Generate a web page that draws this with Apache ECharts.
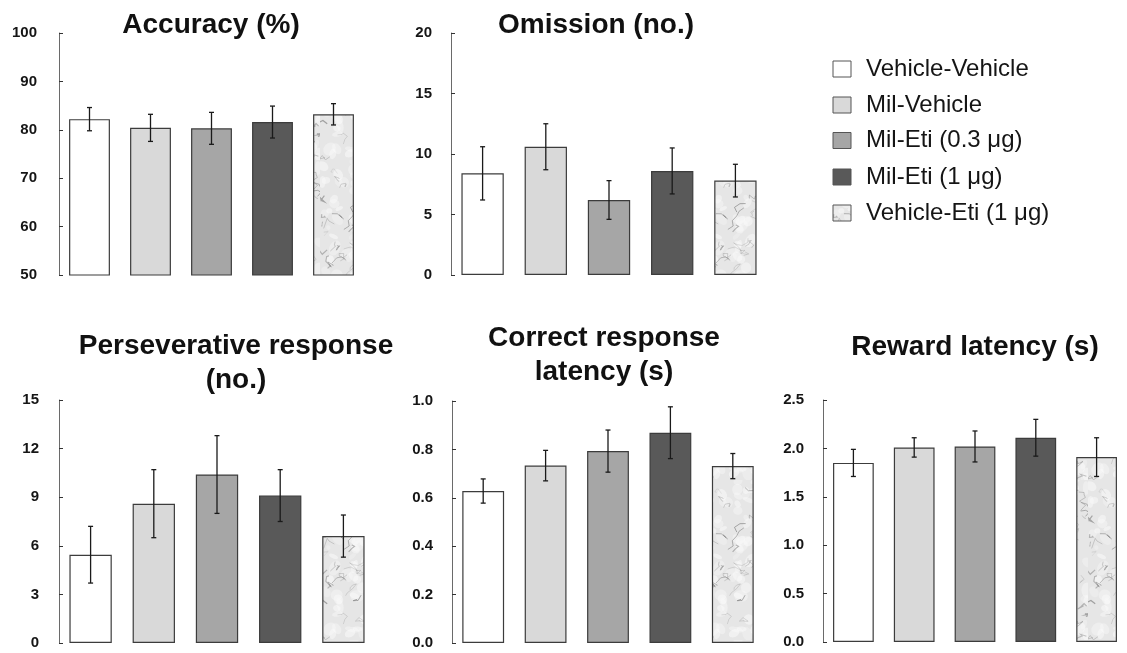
<!DOCTYPE html>
<html>
<head>
<meta charset="utf-8">
<script src="https://cdn.jsdelivr.net/npm/echarts@6/dist/echarts.min.js"></script>
<style>
  html, body { margin: 0; padding: 0; background: #ffffff; }
  #chart { width: 1127px; height: 653px; }
</style>
</head>
<body>
<div id="chart"></div>
<script>
// Treatment groups (same order in every panel)
const groups = ['Vehicle-Vehicle', 'Mil-Vehicle', 'Mil-Eti (0.3 μg)', 'Mil-Eti (1 μg)', 'Vehicle-Eti (1 μg)'];

// Means and SEM per measure
const accuracyMean = [82.2, 80.4, 80.3, 81.6, 83.2];
const accuracySem  = [2.4, 2.8, 3.3, 3.3, 2.2];
const omissionMean = [8.4, 10.6, 6.2, 8.6, 7.8];
const omissionSem  = [2.2, 1.9, 1.6, 1.9, 1.35];
const persevMean   = [5.45, 8.6, 10.4, 9.1, 6.6];
const persevSem    = [1.75, 2.1, 2.4, 1.6, 1.3];
const correctLatMean = [0.628, 0.733, 0.793, 0.869, 0.731];
const correctLatSem  = [0.05, 0.063, 0.087, 0.107, 0.052];
const rewardLatMean  = [1.85, 2.01, 2.02, 2.11, 1.91];
const rewardLatSem   = [0.14, 0.10, 0.16, 0.19, 0.20];

// Y-axis tick values per measure
const accuracyTicks   = [50, 60, 70, 80, 90, 100];
const omissionTicks   = [0, 5, 10, 15, 20];
const persevTicks     = [0, 3, 6, 9, 12, 15];
const correctLatTicks = [0.0, 0.2, 0.4, 0.6, 0.8, 1.0];
const rewardLatTicks  = [0.0, 0.5, 1.0, 1.5, 2.0, 2.5];

// Panel titles
const titles = ['Accuracy (%)', 'Omission (no.)', 'Perseverative response\n(no.)', 'Correct response\nlatency (s)', 'Reward latency (s)'];

// Marble-like texture used for the Vehicle-Eti group
function marbleCanvas() {
  const c = document.createElement('canvas');
  c.width = 64; c.height = 160;
  const g = c.getContext('2d');
  g.fillStyle = '#e6e6e6';
  g.fillRect(0, 0, c.width, c.height);
  let s = 9871;
  const rnd = () => (s = (s * 16807) % 2147483647) / 2147483647;
  // soft light clouds
  for (let i = 0; i < 70; i++) {
    g.fillStyle = 'rgba(250,250,250,' + (0.25 + 0.35 * rnd()).toFixed(2) + ')';
    g.beginPath();
    g.ellipse(rnd() * c.width, rnd() * c.height, 2 + rnd() * 6, 2 + rnd() * 4, rnd() * 3, 0, Math.PI * 2);
    g.fill();
  }
  // fine veins
  for (let i = 0; i < 45; i++) {
    let x = rnd() * c.width, y = rnd() * c.height;
    g.strokeStyle = 'rgba(110,110,110,' + (0.2 + 0.45 * rnd()).toFixed(2) + ')';
    g.lineWidth = 0.4 + rnd() * 0.8;
    g.beginPath();
    g.moveTo(x, y);
    const n = 2 + Math.floor(rnd() * 5);
    for (let k = 0; k < n; k++) {
      x += (rnd() - 0.5) * 12;
      y += (rnd() - 0.4) * 9;
      g.lineTo(x, y);
    }
    g.stroke();
  }
  return c;
}
const marble = { image: marbleCanvas(), repeat: 'repeat' };
const fills = ['#ffffff', '#d9d9d9', '#a6a6a6', '#595959', marble];

// Layout of the five panels
const layout = [
  { grid: { left: 59,  top: 33,  width: 305, height: 242 }, tx: 211, ty: 25,  lh: 34, margin: 22 },
  { grid: { left: 451, top: 33,  width: 316, height: 242 }, tx: 596, ty: 25,  lh: 34, margin: 19 },
  { grid: { left: 59,  top: 400, width: 316, height: 243 }, tx: 236, ty: 363, lh: 34, margin: 20 },
  { grid: { left: 452, top: 401, width: 312, height: 242 }, tx: 604, ty: 355, lh: 34, margin: 19 },
  { grid: { left: 823, top: 400, width: 311, height: 242 }, tx: 975, ty: 347, lh: 34, margin: 19 }
];

const panels = [
  { mean: accuracyMean,   sem: accuracySem,   ticks: accuracyTicks,   dec: 0 },
  { mean: omissionMean,   sem: omissionSem,   ticks: omissionTicks,   dec: 0 },
  { mean: persevMean,     sem: persevSem,     ticks: persevTicks,     dec: 0 },
  { mean: correctLatMean, sem: correctLatSem, ticks: correctLatTicks, dec: 1 },
  { mean: rewardLatMean,  sem: rewardLatSem,  ticks: rewardLatTicks,  dec: 1 }
];

const FONT = '"Liberation Sans", Arial, sans-serif';

const grids = [], xAxes = [], yAxes = [], series = [], graphics = [];

panels.forEach((p, i) => {
  const L = layout[i];
  grids.push(Object.assign({ containLabel: false }, L.grid));
  xAxes.push({ type: 'category', gridIndex: i, data: groups, show: false });
  yAxes.push({
    type: 'value', gridIndex: i,
    min: p.ticks[0], max: p.ticks[p.ticks.length - 1],
    interval: +(p.ticks[1] - p.ticks[0]).toFixed(3),
    axisLine: { show: true, lineStyle: { color: '#6a6a6a', width: 1 } },
    axisTick: { show: true, inside: true, length: 4, lineStyle: { color: '#333333', width: 1 } },
    splitLine: { show: false },
    axisLabel: {
      margin: L.margin, color: '#151515', fontWeight: 'bold', fontSize: 15, fontFamily: FONT,
      formatter: v => Number(v).toFixed(p.dec)
    }
  });
  series.push({
    type: 'bar', xAxisIndex: i, yAxisIndex: i,
    barWidth: '67%',
    itemStyle: { borderColor: '#3c3c3c', borderWidth: 1.2 },
    data: p.mean.map((v, k) => ({ value: v, itemStyle: { color: fills[k] } })),
    silent: true
  });
  series.push({
    type: 'custom', xAxisIndex: i, yAxisIndex: i, z: 5, silent: true,
    encode: { x: 0, y: [1, 2] },
    data: p.mean.map((m, k) => [k, m - p.sem[k], m + p.sem[k]]),
    renderItem: (params, api) => {
      const lo = api.coord([api.value(0), api.value(1)]);
      const hi = api.coord([api.value(0), api.value(2)]);
      const w = 2.5;
      const st = { stroke: '#1a1a1a', lineWidth: 1.3 };
      return {
        type: 'group',
        children: [
          { type: 'line', shape: { x1: hi[0], y1: hi[1], x2: lo[0], y2: lo[1] }, style: st },
          { type: 'line', shape: { x1: hi[0] - w, y1: hi[1], x2: hi[0] + w, y2: hi[1] }, style: st },
          { type: 'line', shape: { x1: lo[0] - w, y1: lo[1], x2: lo[0] + w, y2: lo[1] }, style: st }
        ]
      };
    }
  });
  graphics.push({
    type: 'text', x: L.tx, y: L.ty, silent: true,
    style: {
      text: titles[i], align: 'center', verticalAlign: 'middle',
      font: 'bold 28px ' + FONT, lineHeight: L.lh, fill: '#111111'
    }
  });
});

// Group key
const keyRows = [69, 105, 140.5, 177, 213];
groups.forEach((name, k) => {
  graphics.push({
    type: 'rect', silent: true,
    shape: { x: 833, y: keyRows[k] - 8, width: 18, height: 16 },
    style: { fill: fills[k], stroke: '#555555', lineWidth: 1 }
  });
  graphics.push({
    type: 'text', x: 866, y: keyRows[k], silent: true,
    style: { text: name, align: 'left', verticalAlign: 'middle', font: '24px ' + FONT, fill: '#151515' }
  });
});

const chart = echarts.init(document.getElementById('chart'), null, { renderer: 'canvas' });
chart.setOption({
  animation: false,
  backgroundColor: '#ffffff',
  grid: grids,
  xAxis: xAxes,
  yAxis: yAxes,
  series: series,
  graphic: graphics
});
</script>
</body>
</html>
